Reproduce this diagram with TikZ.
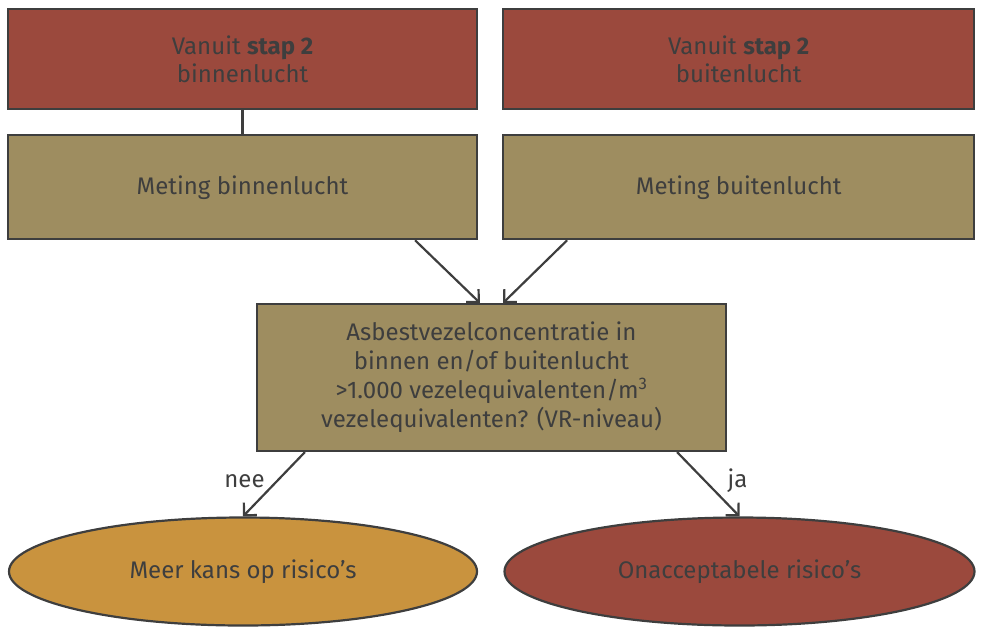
\documentclass[tikz,border=0pt]{standalone}
\usepackage{fontspec}
\setmainfont{Fira Sans}
\usetikzlibrary{positioning, arrows.meta, shapes.geometric}

\definecolor{edge}{RGB}{62,62,62}
\definecolor{stapred}{RGB}{155,73,61}
\definecolor{meetolive}{RGB}{158,141,96}
\definecolor{kansgold}{RGB}{201,147,62}

\begin{document}
\begin{tikzpicture}[x=1pt, y=-1pt, >={Straight Barb[length=9pt, width=18pt]},
        line width=2.2pt, text=edge,
        font=\fontsize{24}{28}\selectfont,
        stapbox/.style = {draw=edge, fill=stapred, rectangle, align=center, minimum width=469pt, minimum height=100pt},
        meetbox/.style = {draw=edge, fill=meetolive, rectangle, align=center, minimum width=469pt, minimum height=104pt},
        vraagbox/.style = {draw=edge, fill=meetolive, rectangle, align=center, minimum width=469pt, minimum height=147pt},
        uitkomst/.style = {draw=edge, ellipse, align=center, minimum width=468pt, minimum height=108pt, inner sep=0pt},
        ]
        \useasboundingbox (0,0) rectangle (982,627);
        \node [stapbox] (stapbinnen) at (242.5,59) {Vanuit \textbf{stap 2}\\binnenlucht};
        \node [stapbox, minimum width=471pt, right=24pt of stapbinnen] (stapbuiten) {Vanuit \textbf{stap 2}\\buitenlucht};
        \node [meetbox, below=24pt of stapbinnen] (meetbinnen) {Meting binnenlucht};
        \node [meetbox, minimum width=471pt, below=24pt of stapbuiten] (meetbuiten) {Meting buitenlucht};
        \node [vraagbox, font=\fontsize{24}{29}\selectfont] (vraag) at (491.5,377.5) {Asbestvezelconcentratie in\\binnen en/of buitenlucht\\>1.000 vezelequivalenten/m\textsuperscript{3}\\vezelequivalenten? (VR-niveau)};
        \node [uitkomst, fill=kansgold] (kans) at (243,571.5) {Meer kans op risico’s};
        \node [uitkomst, minimum width=470pt, fill=stapred] (onacc) at (739.5,571.5) {Onacceptabele risico’s};

        \draw [edge] (stapbinnen) -- (meetbinnen);
        \draw [->, edge] ([xshift=-63pt]meetbinnen.south east) -- ([xshift=224pt]vraag.north west);
        \draw [->, edge] ([xshift=65pt]meetbuiten.south west) -- ([xshift=-224pt]vraag.north east);
        \draw [->, edge] ([xshift=49pt]vraag.south west) -- node[left=8pt, pos=0.45] {nee} (kans.north);
        \draw [->, edge] ([xshift=-50pt]vraag.south east) -- node[right=18pt, pos=0.45] {ja} (onacc.north);
\end{tikzpicture}
\end{document}
